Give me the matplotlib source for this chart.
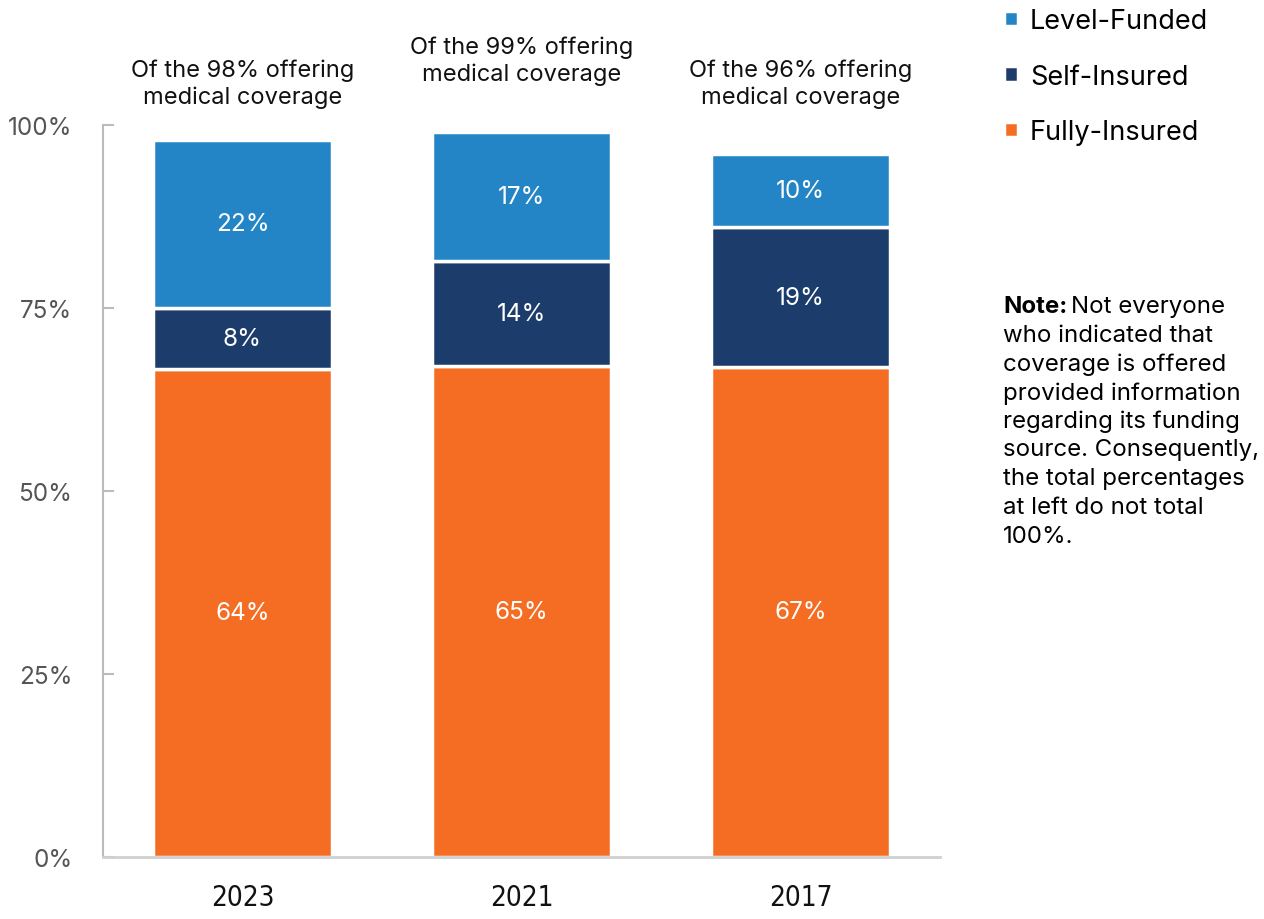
import matplotlib
matplotlib.use("Agg")
import matplotlib.pyplot as plt
from matplotlib.transforms import blended_transform_factory

plt.rcParams['font.family'] = ['Inter', 'DejaVu Sans']

years = ["2023", "2021", "2017"]
offering = [98, 99, 96]
fully_insured = [64, 65, 67]
self_insured = [8, 14, 19]
level_funded = [22, 17, 10]
series_names = ["Fully-Insured", "Self-Insured", "Level-Funded"]
colors = ["#F46D22", "#1C3C6B", "#2385C6"]
yticks = [0, 25, 50, 75, 100]
ytick_labels = ["0%", "25%", "50%", "75%", "100%"]
note_bold = "Note:"
note_rest = ("Not everyone\nwho indicated that\ncoverage is offered\nprovided information\n"
             "regarding its funding\nsource. Consequently,\nthe total percentages\n"
             "at left do not total\n100%.")

W, H = 1264, 920
fig = plt.figure(figsize=(W/100, H/100), dpi=100)
ax = fig.add_axes([103/W, 62/H, (940-103)/W, (858-126)/H])

x = list(range(len(years)))
series = [fully_insured, self_insured, level_funded]
bottoms = [0.0] * len(years)
for vals, name, col in zip(series, series_names, colors):
    heights = []
    for i in range(len(years)):
        total = fully_insured[i] + self_insured[i] + level_funded[i]
        heights.append(vals[i] / total * offering[i])
    ax.bar(x, heights, bottom=bottoms, width=0.64, color=col, edgecolor="white",
           linewidth=2.5, label=name, zorder=2)
    for i in range(len(years)):
        ax.text(x[i], bottoms[i] + heights[i] / 2, f"{vals[i]}%", ha="center", va="center",
                color="white", fontsize=17.5, zorder=3)
    bottoms = [b + h for b, h in zip(bottoms, heights)]

# header texts above bars (vertical position in figure pixels from top)
header_bottom_px = [109, 86, 109]
trans = blended_transform_factory(ax.transData, fig.transFigure)
for i in range(len(years)):
    ax.text(x[i], 1 - header_bottom_px[i]/H, f"Of the {offering[i]}% offering\nmedical coverage",
            transform=trans, ha="center", va="bottom", fontsize=17, color="#111111",
            linespacing=1.28, clip_on=False)

ax.set_xlim(-0.5, 2.5)
ax.set_ylim(0, 100)
ax.set_yticks(yticks)
ax.set_yticklabels(ytick_labels, fontsize=17.5, color="#555555")
ax.set_xticks(x)
ax.set_xticklabels(years, fontsize=20, color="#111111", family="DejaVu Sans",
                   fontstretch="condensed")
ax.tick_params(axis="y", direction="in", length=8, color="#BBBBBB", width=1.5, pad=22)
ax.tick_params(axis="x", length=0, pad=19)
for s in ["top", "right"]:
    ax.spines[s].set_visible(False)
ax.spines["left"].set_color("#BBBBBB")
ax.spines["left"].set_linewidth(1.5)
ax.spines["bottom"].set_color("#D0D0D0")
ax.spines["bottom"].set_linewidth(2)

# legend (reverse order, top = Level-Funded)
handles, labels = ax.get_legend_handles_labels()
leg = fig.legend(handles[::-1], labels[::-1], loc="upper left",
                 bbox_to_anchor=(980/W, 1 + 15/H), frameon=False, fontsize=19.5,
                 handlelength=0.5, handleheight=0.5, handletextpad=0.45,
                 labelspacing=1.08)

# note
tx = 1003/W
ty = 1 - 296/H
fs = 17.3
lh = 28.7
t1 = fig.text(tx, ty, note_bold, fontsize=fs, fontweight="bold", va="top", ha="left")
fig.canvas.draw()
r = fig.canvas.get_renderer()
bb = t1.get_window_extent(r)
lines = note_rest.split("\n")
fig.text((bb.x1 + 4) / W, ty, lines[0], fontsize=fs, va="top", ha="left")
for k, line in enumerate(lines[1:], start=1):
    fig.text(tx, ty - k*lh/H, line, fontsize=fs, va="top", ha="left")

fig.savefig("out.png", dpi=100)
